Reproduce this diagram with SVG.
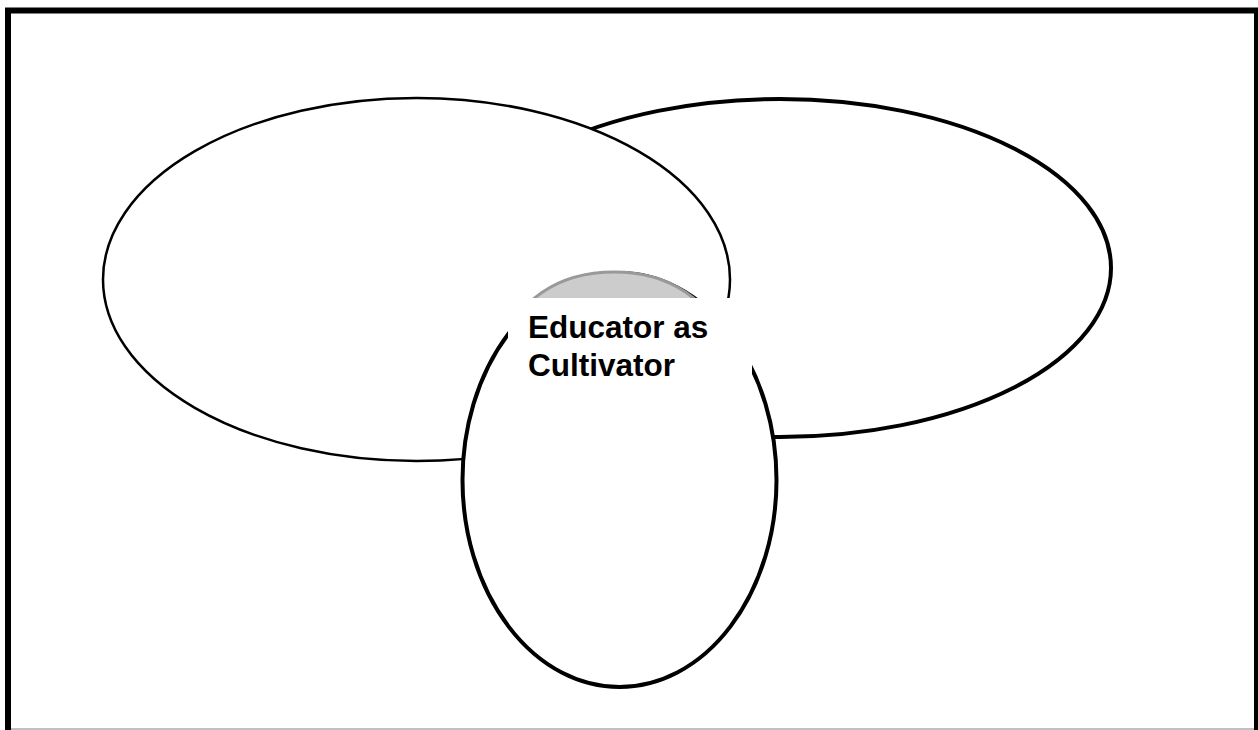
<svg xmlns="http://www.w3.org/2000/svg" width="1258" height="730" viewBox="0 0 1258 730">
  <style>
    .oval { fill: #ffffff; stroke: #000000; }
    .label { font-family: "Liberation Sans", Arial, sans-serif; font-weight: bold; font-size: 31.5px; fill: #000000; }
  </style>
  <rect x="0" y="0" width="1258" height="730" fill="#ffffff"/>
  <g id="frame">
    <rect x="8" y="10.5" width="1249" height="730" fill="none" stroke="#000000" stroke-width="6"/>
    <line x1="11" y1="729" x2="1254" y2="729" stroke="#c0c0c0" stroke-width="2"/>
  </g>
  <g id="connectors"></g>
  <g id="node-right">
    <ellipse class="oval" cx="780" cy="268" rx="331" ry="169" stroke-width="4"/>
  </g>
  <g id="node-left">
    <ellipse class="oval" cx="416.5" cy="279.5" rx="313.5" ry="181.5" stroke-width="2.5"/>
  </g>
  <g id="node-bottom">
    <ellipse class="oval" cx="619.5" cy="480" rx="157" ry="207" stroke-width="4"/>
  </g>
  <g id="node-center">
    <ellipse cx="614" cy="342" rx="102" ry="70" fill="#cccccc" stroke="#999999" stroke-width="3"/>
    <rect x="508" y="298" width="244" height="118" fill="#ffffff"/>
    <text class="label" x="528" y="338">Educator as</text>
    <text class="label" x="528" y="376">Cultivator</text>
  </g>
</svg>
